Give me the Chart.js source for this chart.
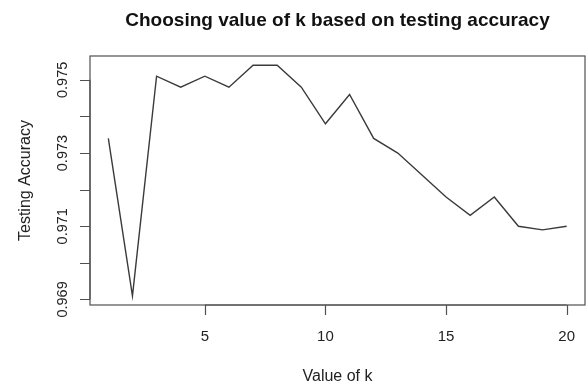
<!DOCTYPE html>
<html>
<head>
<meta charset="utf-8">
<script src="https://cdn.jsdelivr.net/npm/chart.js@4"></script>
<style>
  body { margin: 0; background: #fff; }
  #wrap { width: 587px; height: 383px; }
</style>
</head>
<body>
<div id="wrap"><canvas id="accChart"></canvas></div>
<script>
// k values tried and the test accuracy for each
const kValues = [1, 2, 3, 4, 5, 6, 7, 8, 9, 10, 11, 12, 13, 14, 15, 16, 17, 18, 19, 20];
const accuracy = [0.9734, 0.9691, 0.9751, 0.9748, 0.9751, 0.9748, 0.9754, 0.9754, 0.9748, 0.9738,
                  0.9746, 0.9734, 0.9730, 0.9724, 0.9718, 0.9713, 0.9718, 0.9710, 0.9709, 0.9710];

const xTicks = [5, 10, 15, 20];
const yTicks = [0.969, 0.970, 0.971, 0.972, 0.973, 0.974, 0.975];
const yLabels = ['0.969', '', '0.971', '', '0.973', '', '0.975'];

const mainTitle = 'Choosing value of k based on testing accuracy';
const xTitle = 'Value of k';
const yTitle = 'Testing Accuracy';

// R style range: data range widened by 4% on each side
function padRange(vals) {
    const lo = Math.min(...vals), hi = Math.max(...vals);
    const d = (hi - lo) * 0.04;
    return [lo - d, hi + d];
}
const [xMin, xMax] = padRange(kValues);
const [yMin, yMax] = padRange(accuracy);

const FONT = '"Liberation Sans", Arial, sans-serif';
const AXIS_COL = '#505050';

// box, ticks, labels and titles drawn the way base R does it
const rAxes = {
    id: 'rAxes',
    afterDraw(chart) {
        const ctx = chart.ctx;
        const area = chart.chartArea;
        const xs = chart.scales.x, ys = chart.scales.y;
        ctx.save();
        ctx.strokeStyle = AXIS_COL;
        ctx.lineWidth = 1.2;
        ctx.strokeRect(area.left, area.top, area.right - area.left, area.bottom - area.top);

        // x axis
        ctx.beginPath();
        ctx.moveTo(xs.getPixelForValue(xTicks[0]), area.bottom);
        ctx.lineTo(xs.getPixelForValue(xTicks[xTicks.length - 1]), area.bottom);
        xTicks.forEach(t => {
            const px = Math.round(xs.getPixelForValue(t)) + 0.5;
            ctx.moveTo(px, area.bottom);
            ctx.lineTo(px, area.bottom + 10);
        });
        // y axis
        ctx.moveTo(area.left, ys.getPixelForValue(yTicks[0]));
        ctx.lineTo(area.left, ys.getPixelForValue(yTicks[yTicks.length - 1]));
        yTicks.forEach(t => {
            const py = Math.round(ys.getPixelForValue(t)) + 0.5;
            ctx.moveTo(area.left, py);
            ctx.lineTo(area.left - 10, py);
        });
        ctx.stroke();

        ctx.fillStyle = '#222';
        ctx.textAlign = 'center';
        ctx.textBaseline = 'alphabetic';
        ctx.font = '15px ' + FONT;
        xTicks.forEach(t => {
            ctx.fillText(String(t), xs.getPixelForValue(t), 341);
        });
        ctx.font = '14.5px ' + FONT;
        yTicks.forEach((t, i) => {
            if (!yLabels[i]) return;
            ctx.save();
            ctx.translate(67, ys.getPixelForValue(t));
            ctx.rotate(-Math.PI / 2);
            ctx.fillText(yLabels[i], 0, 0);
            ctx.restore();
        });

        const cx = (area.left + area.right) / 2;
        ctx.font = '16px ' + FONT;
        ctx.fillText(xTitle, cx, 381);
        ctx.save();
        ctx.translate(30, (area.top + area.bottom) / 2);
        ctx.rotate(-Math.PI / 2);
        ctx.fillText(yTitle, 0, 0);
        ctx.restore();

        ctx.fillStyle = '#111';
        ctx.font = 'bold 19px ' + FONT;
        ctx.fillText(mainTitle, cx, 26);
        ctx.restore();
    }
};

new Chart(document.getElementById('accChart'), {
    type: 'line',
    data: {
        datasets: [{
            data: kValues.map((k, i) => ({ x: k, y: accuracy[i] })),
            borderColor: '#3a3a3a',
            borderWidth: 1.4,
            pointRadius: 0,
            tension: 0,
            fill: false
        }]
    },
    options: {
        responsive: true,
        maintainAspectRatio: false,
        animation: false,
        layout: { padding: { left: 90, top: 56, right: 2, bottom: 78 } },
        plugins: {
            legend: { display: false },
            tooltip: { enabled: false }
        },
        scales: {
            x: { type: 'linear', min: xMin, max: xMax, display: false },
            y: { type: 'linear', min: yMin, max: yMax, display: false }
        }
    },
    plugins: [rAxes]
});
</script>
</body>
</html>
